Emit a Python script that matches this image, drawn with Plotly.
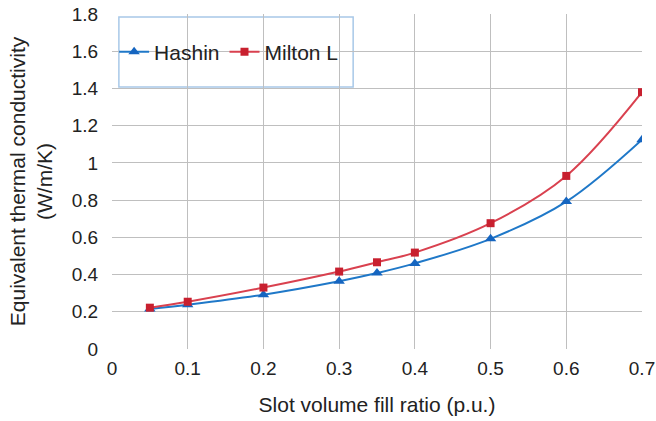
import plotly.graph_objects as go

fill_ratio = [0.05, 0.1, 0.2, 0.3, 0.35, 0.4, 0.5, 0.6, 0.7]
hashin = [0.215, 0.238, 0.292, 0.364, 0.408, 0.46, 0.592, 0.792, 1.125]
milton_l = [0.222, 0.254, 0.33, 0.416, 0.466, 0.518, 0.676, 0.93, 1.38]

fig = go.Figure()
fig.add_trace(go.Scatter(
    x=fill_ratio, y=hashin, name="Hashin", mode="lines+markers",
    line=dict(color="#1f78c8", width=2, shape="spline"),
    marker=dict(symbol="triangle-up", size=10, color="#1565c0"),
))
fig.add_trace(go.Scatter(
    x=fill_ratio, y=milton_l, name="Milton L", mode="lines+markers",
    line=dict(color="#d9414f", width=2, shape="spline"),
    marker=dict(symbol="square", size=8, color="#c8202f"),
))

font_name = "Liberation Sans, Arial"
axis_font = dict(family=font_name, size=19, color="#222")
fig.update_xaxes(
    range=[0, 0.7], dtick=0.1, tickformat="~g",
    showgrid=True, gridcolor="#bfbfbf", gridwidth=1,
    zeroline=False, showline=False,
    ticks="outside", ticklen=2, tickcolor="rgba(0,0,0,0)",
    tickfont=axis_font, automargin=False, ticklabeloverflow="allow",
    title=dict(text="Slot volume fill ratio (p.u.)", font=dict(family=font_name, size=21, color="#222"), standoff=19),
)
fig.update_yaxes(
    range=[0, 1.8], dtick=0.2, tickformat="~g",
    showgrid=True, gridcolor="#bfbfbf", gridwidth=1,
    zeroline=False, showline=False,
    ticks="outside", ticklen=9, tickcolor="rgba(0,0,0,0)",
    tickfont=axis_font, automargin=False, ticklabeloverflow="allow",
    title=dict(text="Equivalent thermal conductivity<br>(W/m/K)", font=dict(family=font_name, size=21, color="#222"), standoff=13),
)

# legend box
fig.add_shape(type="rect", xref="paper", yref="paper",
              x0=0.013, x1=0.455, y0=0.782, y1=0.991,
              line=dict(color="#a8c8e8", width=1.5), fillcolor="white", layer="below")

fig.update_layout(
    width=656, height=421,
    margin=dict(l=112, r=14, t=14, b=72),
    plot_bgcolor="white", paper_bgcolor="white",
    legend=dict(
        orientation="h", x=0.004, y=0.886, xanchor="left", yanchor="middle",
        borderwidth=0, bgcolor="rgba(0,0,0,0)",
        font=dict(family=font_name, size=21, color="#222"),
        itemwidth=30,
    ),
)

# drop the default 8px page margin so the figure fills the window
fig.write_html("out.html", config={"displayModeBar": False},
               post_script="document.body.style.margin='0';")
